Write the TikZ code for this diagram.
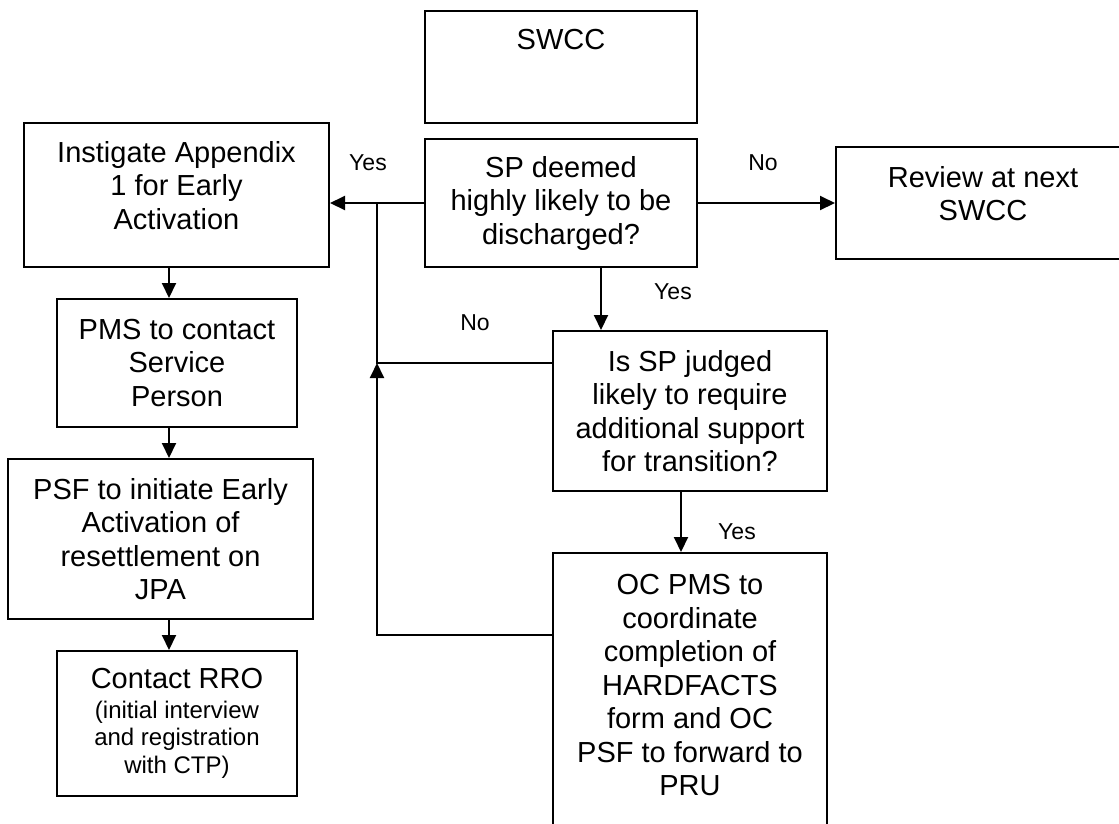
\documentclass[tikz,border=0pt]{standalone}
\usepackage{fontspec}
\setmainfont{Liberation Sans}
\usetikzlibrary{arrows.meta}
\newcommand\smalltxt{\fontsize{24}{27.5}\selectfont}

\begin{document}
\begin{tikzpicture}[x=1pt, y=-1pt, line width=2pt,
                    font=\fontsize{29}{33.5}\selectfont,
                    box/.style = {draw, rectangle, align=center, inner sep=0pt},
                    lbl/.style = {font=\fontsize{23}{26}\selectfont},
                    arr/.style = {-{Triangle[length=15pt, width=14pt]}}]
                    \useasboundingbox (0,0) rectangle (1119,823);

                    \node[box, minimum width=272pt, minimum height=112pt,
                          label={[yshift=27pt]center:SWCC}] (swcc) at (561,67) {};
                    \node[box, minimum width=272pt, minimum height=128pt] (sp) at (561,203)
                          {SP deemed\\highly likely to be\\discharged?};
                    \node[box, minimum width=294pt, minimum height=112pt,
                          label={[align=center, yshift=9.5pt]center:{Review at next\\SWCC}}] (review) at (983,203) {};

                    \node[box, minimum width=305pt, minimum height=144pt,
                          label={[align=center, yshift=9.5pt]center:{Instigate Appendix\\1 for Early\\Activation}}] (inst) at (176.5,195) {};
                    \node[box, minimum width=240pt, minimum height=128pt] (pms) at (177,363)
                          {PMS to contact\\Service\\Person};
                    \node[box, minimum width=305pt, minimum height=160pt] (psf) at (160.5,539)
                          {PSF to initiate Early\\Activation of\\resettlement on\\JPA};
                    \node[box, minimum width=240pt, minimum height=145pt] (rro) at (177,723.5)
                          {Contact RRO\\[-4pt]\smalltxt (initial interview\\[-6pt]\smalltxt and registration\\[-6pt]\smalltxt with CTP)};

                    \node[box, minimum width=274pt, minimum height=160pt] (issp) at (690,411)
                          {Is SP judged\\likely to require\\additional support\\for transition?};
                    \node[box, minimum width=274pt, minimum height=277pt,
                          label={[align=center, yshift=6pt]center:{OC PMS to\\coordinate\\completion of\\HARDFACTS\\form and OC\\PSF to forward to\\PRU}}] (oc) at (690,691.5) {};

                    % answers on the connectors
                    \node[lbl] (yes1) at (368,163) {Yes};
                    \node[lbl] (no1) at (763,163) {No};
                    \node[lbl] (yes2) at (673,292) {Yes};
                    \node[lbl] (no2) at (475,323) {No};
                    \node[lbl] (yes3) at (737,532) {Yes};

                    \coordinate (col) at (169,0);
                    \coordinate (j1) at (377,203);
                    \coordinate (j2) at (377,363);
                    \coordinate (j3) at (377,635);

                    \draw[arr] (sp) -- (sp -| inst.east);
                    \draw[arr] (sp) -- (review);
                    \draw[arr] ([xshift=40pt]sp.south) -- ([xshift=40pt]sp.south |- issp.north);
                    \draw[arr] ([xshift=-9pt]issp.south) -- ([xshift=-9pt]oc.north);

                    \draw[arr] (inst.south -| col) -- (pms.north -| col);
                    \draw[arr] (pms.south -| col) -- (psf.north -| col);
                    \draw[arr] (psf.south -| col) -- (rro.north -| col);

                    \draw (issp.west |- j2) -- (j2) -- (j1);
                    \draw[arr] (oc.west |- j3) -- (j3) -- (j2);
                \end{tikzpicture}
\end{document}
